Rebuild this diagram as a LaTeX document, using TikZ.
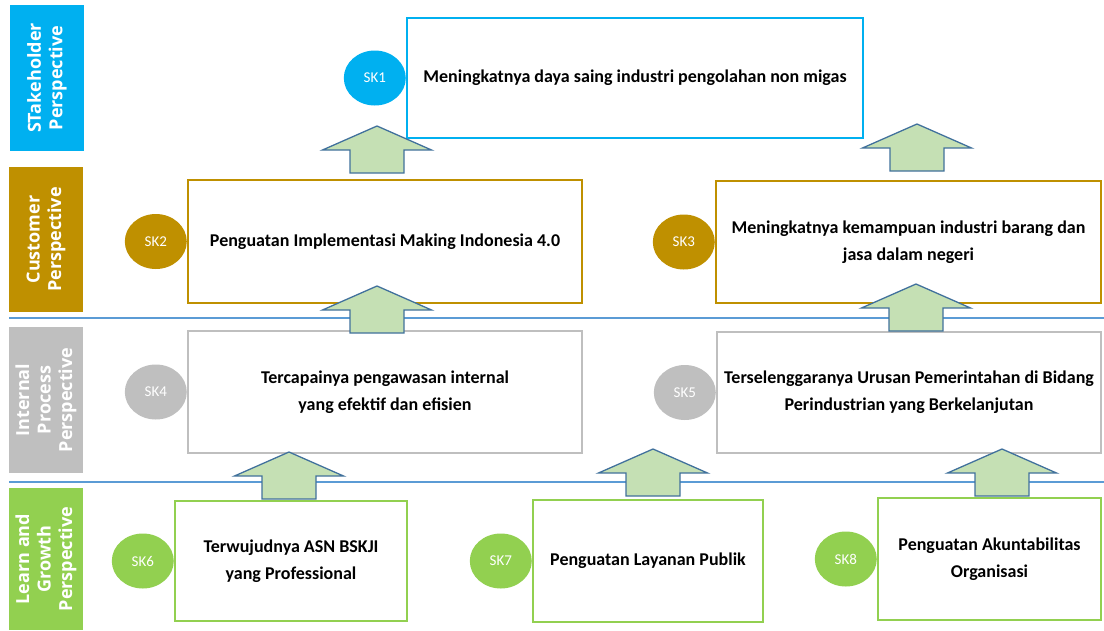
\documentclass[tikz,border=0pt]{standalone}
\usepackage{fontspec}
\setmainfont{Carlito}
\newfontfamily\sidefont{Open Sans}
\usetikzlibrary{positioning,shapes.geometric}

\definecolor{stakeblue}{HTML}{00B0F0}
\definecolor{custgold}{HTML}{BF9000}
\definecolor{procgray}{HTML}{BFBFBF}
\definecolor{growgreen}{HTML}{92D050}
\definecolor{lineblue}{HTML}{5B9BD5}
\definecolor{arrowfill}{HTML}{C5E0B4}
\definecolor{arrowedge}{HTML}{41719C}

\begin{document}
\begin{tikzpicture}[x=1pt, y=-1pt,
    side/.style={fill=#1, minimum height=74pt, inner sep=0pt, text=white, align=center, rotate=90,
        font=\sidefont\bfseries\fontsize{18}{21.5}\selectfont},
    goal/.style={draw=#1, line width=2pt, fill=white, inner sep=0pt, align=center,
        font=\bfseries\fontsize{18}{27}\selectfont},
    tag/.style={ellipse, fill=#1, minimum width=62pt, minimum height=55pt, inner sep=0pt,
        text=white, font=\fontsize{15}{15}\selectfont},
    sepline/.style={lineblue, line width=2pt},
    uparrow/.pic={
        \draw[arrowedge, fill=arrowfill, line width=1.3pt]
            (-27,0) -- (-27,-23) -- (-54.5,-23) -- (0,-47) -- (54.5,-23) -- (27,-23) -- (27,0) -- cycle;
    }]
    \useasboundingbox (0,0) rectangle (1104,630);

    % perspective lines
    \draw[sepline] (9,318) -- (1104,318);
    \draw[sepline] (9,482) -- (1104,482);

    % perspectives
    \node[side=stakeblue, minimum width=146pt] (stake) at (47,78) {STakeholder\\Perspective};
    \node[side=custgold, minimum width=145pt] (cust) at (46,239.5) {Customer\\Perspective};
    \node[side=procgray, minimum width=146pt] (proc) at (46,400) {Internal\\Process\\Perspective};
    \node[side=growgreen, minimum width=142pt] (grow) at (46,559) {Learn and\\Growth\\Perspective};

    % goals
    \node[goal=stakeblue, minimum width=456pt, minimum height=120pt] (sk1) at (635,78)
        {Meningkatnya daya saing industri pengolahan non migas};
    \node[goal=custgold, minimum width=394pt, minimum height=123pt] (sk2) at (385,241.5)
        {Penguatan Implementasi Making Indonesia 4.0};
    \node[goal=custgold, minimum width=385pt, minimum height=122pt] (sk3) at (908.5,242)
        {Meningkatnya kemampuan industri barang dan\\jasa dalam negeri};
    \node[goal=procgray, minimum width=394pt, minimum height=122pt] (sk4) at (385,392)
        {Tercapainya pengawasan internal\\yang efektif dan efisien};
    \node[goal=procgray, minimum width=384pt, minimum height=121pt] (sk5) at (909,392.5)
        {Terselenggaranya Urusan Pemerintahan di Bidang\\Perindustrian yang Berkelanjutan};
    \node[goal=growgreen, minimum width=232pt, minimum height=120pt] (sk6) at (291,561)
        {Terwujudnya ASN BSKJI\\yang Professional};
    \node[goal=growgreen, minimum width=230pt, minimum height=122pt] (sk7) at (648,561)
        {Penguatan Layanan Publik};
    \node[goal=growgreen, minimum width=223pt, minimum height=122pt] (sk8) at (989.5,559)
        {Penguatan Akuntabilitas\\Organisasi};

    % labels
    \node[tag=stakeblue, left=0pt of sk1] (t1) {SK1};
    \node[tag=custgold, left=0pt of sk2] (t2) {SK2};
    \node[tag=custgold, left=0pt of sk3] (t3) {SK3};
    \node[tag=procgray, left=0pt of sk4] (t4) {SK4};
    \node[tag=procgray, left=0pt of sk5] (t5) {SK5};
    \node[tag=growgreen, left=0pt of sk6] (t6) {SK6};
    \node[tag=growgreen, left=0pt of sk7] (t7) {SK7};
    \node[tag=growgreen, left=0pt of sk8] (t8) {SK8};

    % arrows
    \pic at ([xshift=-8pt,yshift=6pt]sk2.north) {uparrow};
    \pic at ([xshift=8.5pt,yshift=9pt]sk3.north) {uparrow};
    \pic at ([xshift=-8pt,yshift=-3pt]sk4.north) {uparrow};
    \pic at ([xshift=7pt]sk5.north) {uparrow};
    \pic at ([xshift=-2pt,yshift=1pt]sk6.north) {uparrow};
    \pic at ([xshift=5pt,yshift=3pt]sk7.north) {uparrow};
    \pic at ([xshift=12.5pt,yshift=1pt]sk8.north) {uparrow};
\end{tikzpicture}
\end{document}
